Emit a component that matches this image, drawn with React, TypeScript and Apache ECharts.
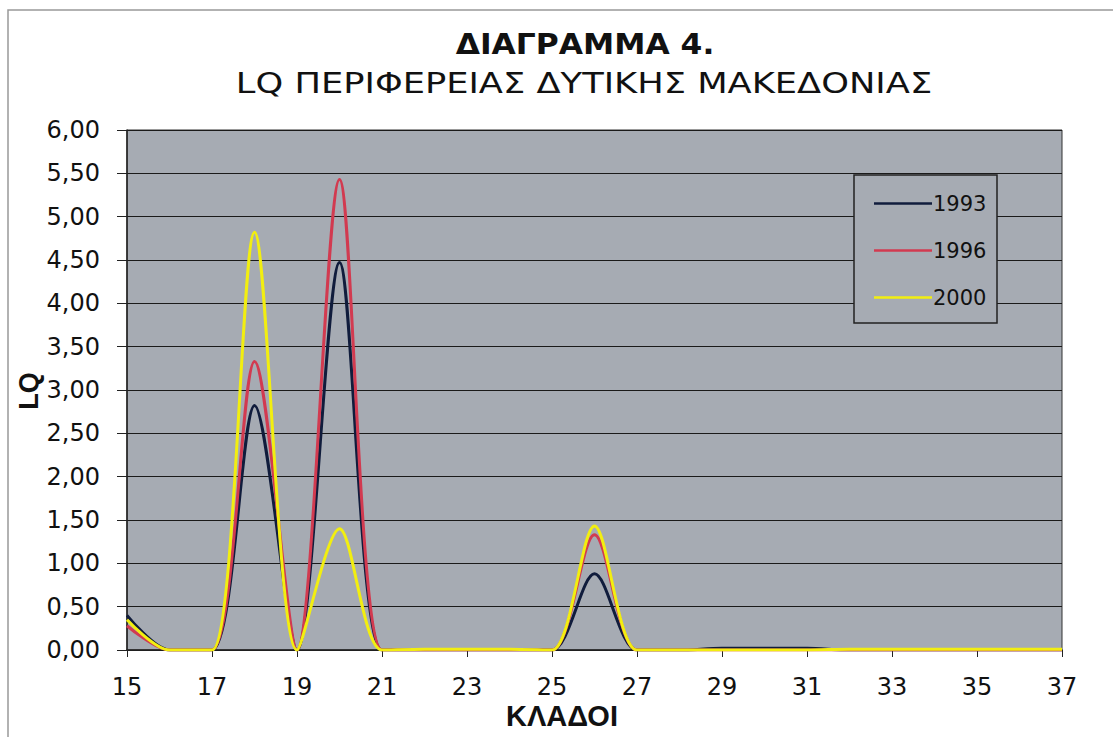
import React, { useEffect, useRef } from "react";
import * as echarts from "echarts";

const categories = ["15","16","17","18","19","20","21","22","23","24","25","26","27","28","29","30","31","32","33","34","35","36","37"];
const s1993 = [0.40, 0, 0, 2.82, 0, 4.47, 0, 0, 0, 0, 0, 0.88, 0, 0, 0.02, 0.02, 0.02, 0, 0, 0, 0, 0, 0];
const s1996 = [0.28, 0, 0, 3.33, 0, 5.43, 0, 0, 0, 0, 0, 1.33, 0, 0, 0, 0, 0, 0, 0, 0, 0, 0, 0];
const s2000 = [0.35, 0, 0, 4.82, 0, 1.40, 0, 0.01, 0.01, 0.01, 0, 1.43, 0, 0, 0, 0, 0, 0.01, 0.01, 0.01, 0.01, 0.01, 0.01];
const seriesNames = ["1993", "1996", "2000"];
const colors = ["#101c3c", "#d23a50", "#f2ee10"];
const titleLine1 = "ΔΙΑΓΡΑΜΜΑ 4.";
const titleLine2 = "LQ ΠΕΡΙΦΕΡΕΙΑΣ ΔΥΤΙΚΗΣ ΜΑΚΕΔΟΝΙΑΣ";
const xName = "ΚΛΑΔΟΙ";
const yName = "LQ";

export default function App() {
  const ref = useRef<HTMLDivElement>(null);
  useEffect(() => {
    if (!ref.current) return;
    const chart = echarts.init(ref.current, undefined, { renderer: "svg" });
    const font = "'Liberation Sans', Arial, sans-serif";
    const dfont = "'DejaVu Sans', sans-serif";
    const data = [s1993, s1996, s2000];
    chart.setOption({
      animation: false,
      backgroundColor: "#ffffff",
      textStyle: { fontFamily: dfont },
      graphic: [
        { type: "rect", shape: { x: 8, y: 10, width: 1110, height: 740 }, style: { fill: "none", stroke: "#999", lineWidth: 1.5 }, z: -1 },
        { type: "text", x: 585, y: 44, scaleX: 1.12, style: { text: titleLine1, fill: "#111", font: `bold 28px ${dfont}`, align: "center", verticalAlign: "middle" } },
        { type: "text", x: 584, y: 83, scaleX: 1.26, style: { text: titleLine2, fill: "#111", font: `28px ${dfont}`, align: "center", verticalAlign: "middle" } },
        { type: "text", x: 562, y: 716, style: { text: xName, fill: "#111", font: `bold 29px ${font}`, align: "center", verticalAlign: "middle" } },
        { type: "text", x: 29, y: 391, rotation: Math.PI / 2, style: { text: yName, fill: "#111", font: `bold 27px ${font}`, align: "center", verticalAlign: "middle" } },
        { type: "rect", shape: { x: 854, y: 175, width: 143, height: 148 }, style: { fill: "#a6abb3", stroke: "#222", lineWidth: 1.5 }, z: 10 },
      ],
      legend: {
        orient: "vertical",
        left: 869,
        top: 188,
        itemGap: 26,
        itemWidth: 58,
        itemHeight: 22,
        icon: "path://M0,10 L58,10 L58,12.5 L0,12.5 Z",
        textStyle: { fontSize: 21, color: "#111", fontFamily: dfont, padding: [0, 0, 0, -4] },
        z: 20,
        data: seriesNames,
      },
      grid: { left: 127, right: 51, top: 130, bottom: 87, show: true, backgroundColor: "#a6abb3", borderColor: "#333", borderWidth: 1 },
      xAxis: {
        type: "category",
        data: categories,
        boundaryGap: false,
        axisLine: { show: true, lineStyle: { color: "#222", width: 1.5 } },
        axisTick: { show: true, interval: 1, length: 7, lineStyle: { color: "#222" } },
        axisLabel: { interval: 1, fontSize: 24, color: "#111", margin: 25, fontFamily: dfont },
        splitLine: { show: false },
      },
      yAxis: {
        type: "value",
        min: 0,
        max: 6,
        interval: 0.5,
        axisLine: { show: true, lineStyle: { color: "#222", width: 1.5 } },
        axisTick: { show: true, length: 10, lineStyle: { color: "#222" } },
        axisLabel: { fontSize: 24, color: "#111", margin: 27, fontFamily: dfont,
          formatter: (v: number) => v.toFixed(2).replace(".", ",") },
        splitLine: { show: true, lineStyle: { color: "#1a1a1a", width: 1 } },
      },
      series: seriesNames.map((n, i) => ({
        name: n,
        type: "line",
        data: data[i],
        smooth: 0.3,
        symbol: "none",
        showSymbol: false,
        lineStyle: { color: colors[i], width: 3 },
        itemStyle: { color: colors[i] },
        z: 2 + i,
      })),
    });
    return () => chart.dispose();
  }, []);
  return <div ref={ref} style={{ position: "fixed", left: 0, top: 0, width: 1113, height: 737 }} />;
}
